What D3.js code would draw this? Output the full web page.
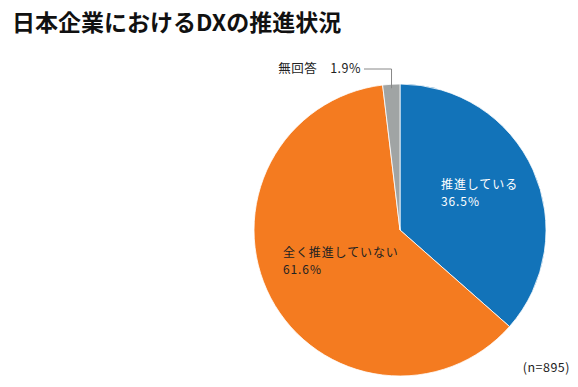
<!DOCTYPE html>
<html>
<head>
<meta charset="utf-8">
<script src="https://cdn.jsdelivr.net/npm/d3@7"></script>
<style>
  body { margin: 0; background: #fff; }
  text { font-family: "Noto Sans CJK JP", "Noto Sans", sans-serif; }
</style>
</head>
<body>
<div id="chart"></div>
<script>
var categories = ["推進している", "全く推進していない", "無回答"];
var values = [36.5, 61.6, 1.9];
var colors = ["#1273b9", "#f47b20", "#a0a4a4"];
var title = "日本企業におけるDXの推進状況";
var note = "(n=895)";

var width = 578, height = 387;
var cx = 400, cy = 230, radius = 146;

var svg = d3.select("#chart")
    .append("svg")
    .attr("width", width)
    .attr("height", height);

svg.append("text")
    .attr("x", 12)
    .attr("y", 31)
    .attr("font-size", 23)
    .attr("font-weight", "bold")
    .attr("fill", "#111")
    .text(title);

var data = categories.map(function(c, i) { return {name: c, value: values[i], color: colors[i]}; });

var pie = d3.pie().sort(null).value(function(d) { return d.value; });
var arc = d3.arc().innerRadius(0).outerRadius(radius);
var arcs = pie(data);

var g = svg.append("g").attr("transform", "translate(" + cx + "," + cy + ")");

g.selectAll("path")
    .data(arcs)
    .enter()
    .append("path")
    .attr("d", arc)
    .attr("fill", function(d) { return d.data.color; })
    .attr("stroke", "#fff")
    .attr("stroke-width", 0.8);

// labels inside the two big slices (name line + percent line)
var labelPos = [[41, -41], [-117, 27]];
var labelColor = ["#fff", "#222"];
arcs.slice(0, 2).forEach(function(a, i) {
  g.append("text")
      .attr("x", labelPos[i][0])
      .attr("y", labelPos[i][1])
      .attr("font-size", 12)
      .attr("letter-spacing", 0.9)
      .attr("fill", labelColor[i])
      .text(a.data.name);
  g.append("text")
      .attr("x", labelPos[i][0])
      .attr("y", labelPos[i][1] + 17)
      .attr("font-size", 12)
      .attr("letter-spacing", 0.9)
      .attr("fill", labelColor[i])
      .text(a.data.value.toFixed(1) + "%");
});

// small slice: leader line and outside label
var small = arcs[2];
var mid = (small.startAngle + small.endAngle) / 2;
var px = Math.sin(mid) * (radius - 4), py = -Math.cos(mid) * (radius - 4);
g.append("polyline")
    .attr("points", [[px, py], [px, -161], [-36, -161]].map(function(p) { return p.join(","); }).join(" "))
    .attr("fill", "none")
    .attr("stroke", "#888")
    .attr("stroke-width", 1);
g.append("text")
    .attr("x", -39)
    .attr("y", -157)
    .attr("text-anchor", "end")
    .attr("font-size", 12.5)
    .attr("letter-spacing", 0.5)
    .attr("fill", "#222")
    .text(small.data.name + "\u3000" + small.data.value.toFixed(1) + "%");

svg.append("text")
    .attr("x", 570)
    .attr("y", 372)
    .attr("text-anchor", "end")
    .attr("font-size", 12.5)
    .attr("letter-spacing", 0.5)
    .attr("fill", "#222")
    .text(note);
</script>
</body>
</html>
